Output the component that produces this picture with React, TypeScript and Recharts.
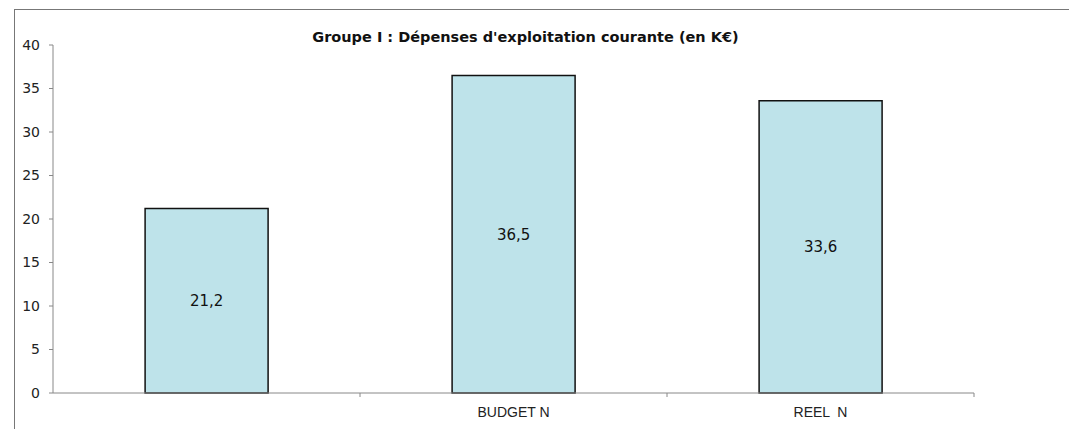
import { BarChart, Bar, XAxis, YAxis, LabelList } from "recharts";

const categories = ["", "BUDGET N", "REEL  N"];
const values = [21.2, 36.5, 33.6];
const yTicks = [0, 5, 10, 15, 20, 25, 30, 35, 40];

const data = categories.map((name, i) => ({ name, value: values[i] }));

const fmt = (v: any) => String(v).replace(".", ",");

// category label + small tick mark on the right boundary of each category
const CatTick = ({ x, y, payload }: any) => {
    const half = payload && payload.offset ? payload.offset : 153.5;
    return (
        <g>
            <line x1={x + half} x2={x + half} y1={y} y2={y + 4} stroke="#888" />
            <text
                x={x}
                y={y + 24}
                textAnchor="middle"
                fill="#222"
                style={{ fontFamily: "Liberation Sans, Arial, sans-serif", fontSize: 14, whiteSpace: "pre" }}
            >
                {payload.value}
            </text>
        </g>
    );
};

export default function App() {
    return (
        <div style={{ position: "relative", width: 1069, height: 421 }}>
            {/* frame of the chart area */}
            <div style={{
                position: "absolute",
                left: 6,
                top: 1,
                width: 1070,
                height: 430,
                borderTop: "1px solid #777",
                borderLeft: "1px solid #777",
            }} />
            <div style={{
                position: "absolute",
                left: -17,
                top: 21,
                width: 1069,
                textAlign: "center",
                fontFamily: "DejaVu Sans, Verdana, sans-serif",
                fontWeight: 700,
                fontSize: 14.5,
                color: "#111",
            }}>
                Groupe I : Dépenses d'exploitation courante (en K€)
            </div>
            <div style={{ position: "absolute", left: 0, top: 0 }}>
                <BarChart
                    width={1069}
                    height={421}
                    data={data}
                    margin={{ top: 37, right: 103, bottom: 6, left: 5 }}
                    barCategoryGap="30%"
                >
                    <XAxis
                        dataKey="name"
                        stroke="#888"
                        tickLine={false}
                        tickSize={0}
                        tickMargin={0}
                        height={30}
                        interval={0}
                        tick={<CatTick />}
                    />
                    <YAxis
                        width={40}
                        domain={[0, 40]}
                        ticks={yTicks}
                        interval={0}
                        tickSize={4}
                        tickMargin={9}
                        stroke="#888"
                        tick={{ fill: "#222", stroke: "none", fontSize: 14, fontFamily: "DejaVu Sans, Verdana, sans-serif" }}
                    />
                    <Bar
                        dataKey="value"
                        fill="#bee3ea"
                        stroke="#111"
                        strokeWidth={1.5}
                        isAnimationActive={false}
                    >
                        <LabelList
                            dataKey="value"
                            position="center"
                            formatter={fmt}
                            fill="#111"
                            style={{ fontFamily: "DejaVu Sans, Verdana, sans-serif", fontSize: 15 }}
                        />
                    </Bar>
                </BarChart>
            </div>
        </div>
    );
}
